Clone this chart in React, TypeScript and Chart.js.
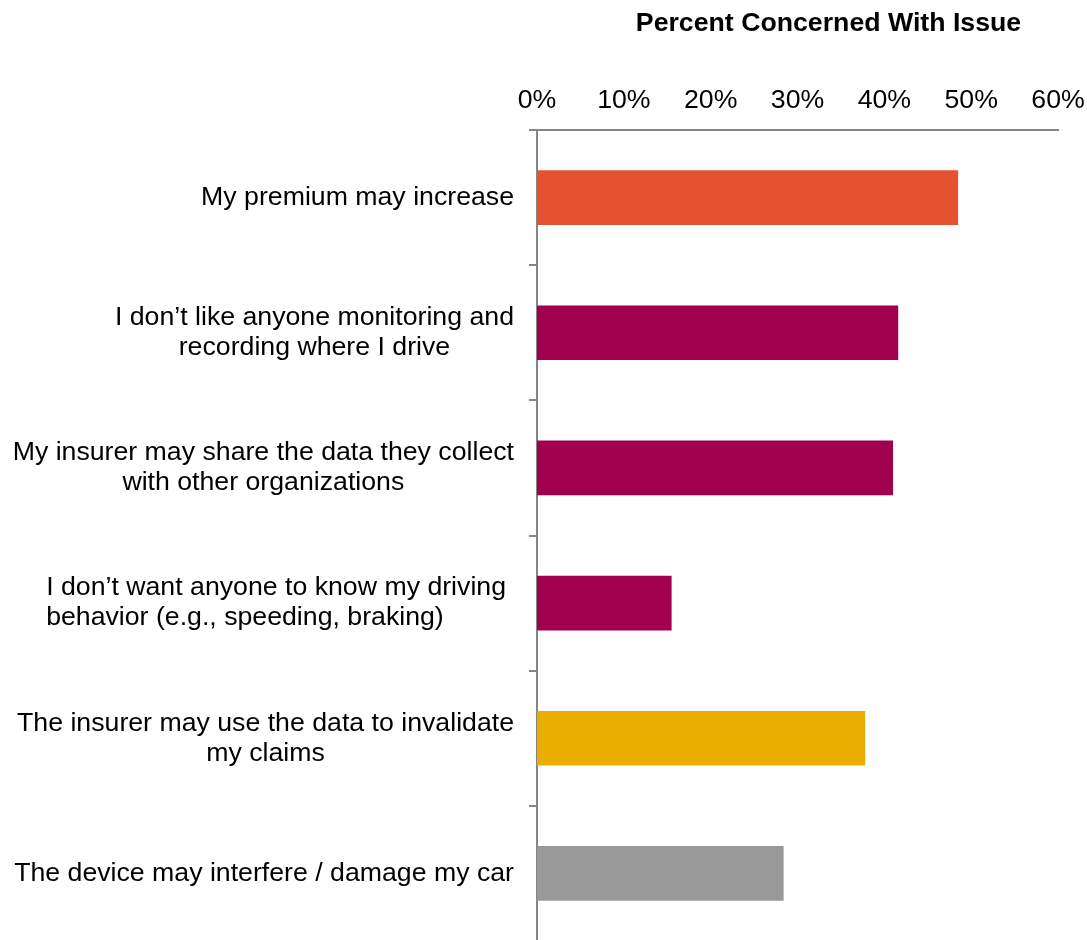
import React, { useEffect, useRef } from "react";
import { Chart, registerables } from "chart.js";

Chart.register(...registerables);

const TITLE = "Percent Concerned With Issue";

const categories: string[][] = [
  ["My premium may increase"],
  ["I don’t like anyone monitoring and", "recording where I drive"],
  ["My insurer may share the data they collect", "with other organizations"],
  ["I don’t want anyone to know my driving", "behavior (e.g., speeding, braking)"],
  ["The insurer may use the data to invalidate", "my claims"],
  ["The device may interfere / damage my car"],
];

const percentConcerned: number[] = [48.5, 41.6, 41.0, 15.5, 37.8, 28.4];

const tickValues: number[] = [0, 10, 20, 30, 40, 50, 60];

const barColors: string[] = ["#E4522F", "#A1004F", "#A1004F", "#A1004F", "#EAAE00", "#999999"];

const labelAlign: string[] = ["center", "center", "center", "left", "center", "center"];

const FONT_FAMILY = '"Liberation Sans", Arial, Helvetica, sans-serif';
const FONT_SIZE = 26.7;
const LINE_H = 30;
const AXIS_COLOR = "#868686";

const labelPlugin = {
  id: "customLabels",
  afterDraw(chart: any) {
    const ctx = chart.ctx;
    const yScale = chart.scales.y;
    const area = chart.chartArea;
    ctx.save();
    ctx.fillStyle = "#000000";
    ctx.textBaseline = "middle";
    ctx.font = `${FONT_SIZE}px ${FONT_FAMILY}`;
    const labels = chart.data.labels as string[][];
    const rightEdge = area.left - 23;
    labels.forEach((lines, i) => {
      const cy = yScale.getPixelForValue(i);
      const widths = lines.map((l) => ctx.measureText(l).width);
      const maxW = Math.max(...widths);
      lines.forEach((line, j) => {
        const ly = cy + (j - (lines.length - 1) / 2) * LINE_H;
        if (labelAlign[i] === "left") {
          ctx.textAlign = "left";
          ctx.fillText(line, rightEdge - 8 - maxW, ly);
        } else {
          ctx.textAlign = "center";
          ctx.fillText(line, rightEdge - maxW / 2, ly);
        }
      });
    });
    ctx.font = `bold ${FONT_SIZE}px ${FONT_FAMILY}`;
    ctx.textAlign = "center";
    ctx.fillText(TITLE, (area.left + area.right) / 2 + 31, 24);
    ctx.restore();
  },
};

export default function App() {
  const canvasRef = useRef<HTMLCanvasElement | null>(null);

  useEffect(() => {
    if (!canvasRef.current) return;
    const chart = new Chart(canvasRef.current, {
      type: "bar",
      data: {
        labels: categories as any,
        datasets: [
          {
            data: percentConcerned,
            backgroundColor: barColors,
            borderWidth: 0,
            categoryPercentage: 1,
            barPercentage: 0.405,
          },
        ],
      },
      options: {
        indexAxis: "y",
        responsive: false,
        animation: false,
        layout: { padding: { top: 0, bottom: 5, right: 29, left: 0 } },
        plugins: {
          legend: { display: false },
          title: { display: false },
          tooltip: { enabled: false },
        },
        scales: {
          x: {
            position: "top",
            min: 0,
            max: 60,
            afterBuildTicks(scale: any) {
              scale.ticks = tickValues.map((v) => ({ value: v }));
            },
            afterFit(scale: any) {
              scale.height = 130;
              scale.paddingLeft = 0;
              scale.paddingRight = 0;
            },
            ticks: {
              callback: (v: any) => `${v}%`,
              color: "#000000",
              font: { family: FONT_FAMILY, size: FONT_SIZE },
              padding: 13,
              maxRotation: 0,
            },
            grid: { display: false, drawTicks: false },
            border: { display: true, color: AXIS_COLOR, width: 2 },
          },
          y: {
            position: "left",
            afterFit(scale: any) {
              scale.width = 537;
              scale.paddingTop = 0;
              scale.paddingBottom = 0;
            },
            ticks: { display: false },
            grid: {
              display: true,
              offset: true,
              drawOnChartArea: false,
              drawTicks: true,
              tickLength: 8,
              color: AXIS_COLOR,
              lineWidth: 2,
            },
            border: { display: true, color: AXIS_COLOR, width: 2 },
          },
        },
      },
      plugins: [labelPlugin],
    });
    return () => chart.destroy();
  }, []);

  return (
    <div
      style={{
        position: "fixed",
        left: 0,
        top: 0,
        width: 1087,
        height: 940,
        overflow: "hidden",
        background: "#ffffff",
      }}
    >
      <canvas ref={canvasRef} width={1087} height={946} style={{ display: "block" }} />
    </div>
  );
}
